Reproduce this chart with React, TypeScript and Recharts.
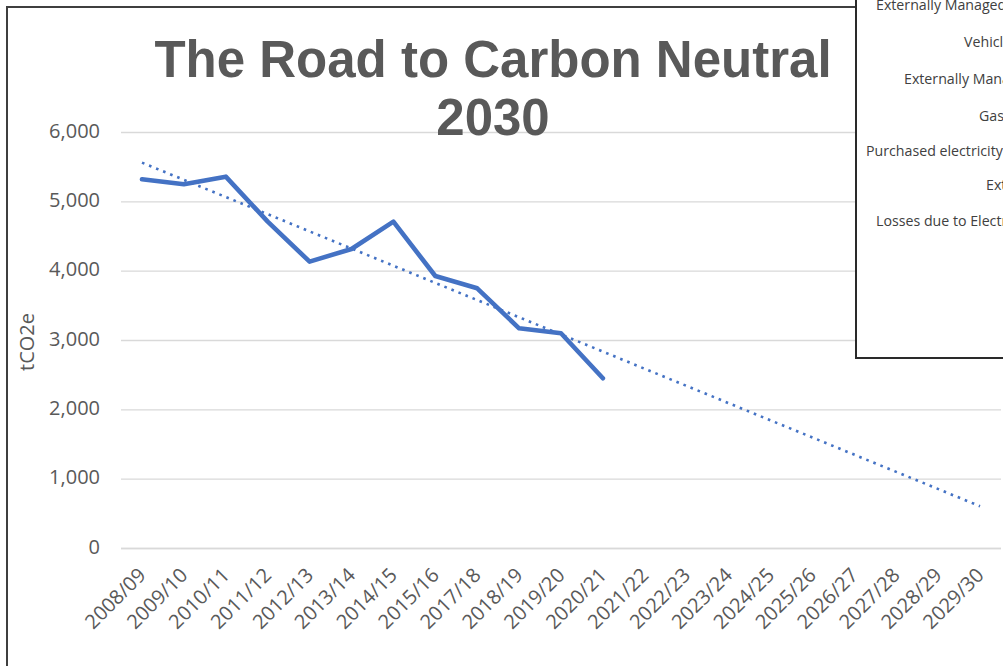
import React from 'react';
import { LineChart, Line, XAxis, YAxis, CartesianGrid } from 'recharts';

const categories = [
  '2008/09', '2009/10', '2010/11', '2011/12', '2012/13', '2013/14', '2014/15',
  '2015/16', '2017/18', '2018/19', '2019/20', '2020/21', '2021/22', '2022/23',
  '2023/24', '2024/25', '2025/26', '2026/27', '2027/28', '2028/29', '2029/30',
];

const emissions = [5325, 5253, 5363, 4714, 4137, 4320, 4714, 3930, 3753, 3176, 3104, 2455];

// Linear trendline as drawn: value at first and last category
const trendFirst = 5565;
const trendLast = 610;

const yTicks = [0, 1000, 2000, 3000, 4000, 5000, 6000];

const title = ['The Road to Carbon Neutral', '2030'];
const yLabel = 'tCO2e';

const boxLabels = [
  'Externally Managed Buildings',
  'Vehicles',
  'Externally Managed Vehicles',
  'Gas',
  'Purchased electricity',
  'Externally Managed',
  'Losses due to Electricity',
];

const data = categories.map((cat, i) => ({
  cat,
  emissions: i < emissions.length ? emissions[i] : null,
  trend: i === 0 ? trendFirst : i === categories.length - 1 ? trendLast : null,
}));

const FONT = "'Segoe UI', 'Open Sans', sans-serif";
const BLUE = '#4472C4';
const GREY_TEXT = '#595959';

const XTick = (props: any) => {
  const { x, y, payload } = props;
  const ax = x + 5;
  const ay = y + 28;
  return (
    <text
      x={ax}
      y={ay}
      transform={`rotate(-45 ${ax} ${ay})`}
      textAnchor="end"
      fill={GREY_TEXT}
      fontSize={20}
      fontFamily={FONT}
    >
      {payload.value}
    </text>
  );
};

const boxPos = [
  { left: 876, top: -3 },
  { left: 964, top: 34 },
  { left: 904, top: 71 },
  { left: 979, top: 108 },
  { left: 866, top: 143 },
  { left: 986, top: 177 },
  { left: 876, top: 213 },
];

export default function App() {
  return (
    <div
      style={{
        position: 'absolute',
        left: 0,
        top: 0,
        width: 1003,
        height: 666,
        overflow: 'hidden',
        background: '#fff',
      }}
    >
      <div
        style={{
          position: 'absolute',
          left: 6,
          top: 6,
          width: 1100,
          height: 800,
          border: '2px solid #3f3f3f',
          boxSizing: 'border-box',
        }}
      />
      <div style={{ position: 'absolute', left: 0, top: 0 }}>
        <LineChart
          width={1003}
          height={666}
          data={data}
          margin={{ top: 132.5, right: 2, bottom: 17.5, left: 61 }}
        >
          <CartesianGrid vertical={false} stroke="#d9d9d9" strokeWidth={1.3} />
          <XAxis
            dataKey="cat"
            interval={0}
            height={100}
            padding={{ left: 21, right: 21 }}
            tickLine={false}
            tickSize={0}
            tickMargin={0}
            axisLine={{ stroke: '#d9d9d9', strokeWidth: 1.3 }}
            tick={<XTick />}
          />
          <YAxis
            width={60}
            domain={[0, 6000]}
            ticks={yTicks}
            interval={0}
            axisLine={false}
            tickLine={false}
            tickSize={0}
            tickMargin={21}
            tickFormatter={(v: number) => v.toLocaleString('en-US')}
            tick={{ fill: GREY_TEXT, fontSize: 20, fontFamily: FONT, dy: -2 }}
          />
          <Line
            type="linear"
            dataKey="trend"
            stroke={BLUE}
            strokeWidth={2.6}
            strokeDasharray="2.6 5"
            dot={false}
            connectNulls
            isAnimationActive={false}
          />
          <Line
            type="linear"
            dataKey="emissions"
            stroke={BLUE}
            strokeWidth={4.6}
            strokeLinejoin="round"
            strokeLinecap="round"
            dot={false}
            isAnimationActive={false}
          />
        </LineChart>
      </div>
      <div
        style={{
          position: 'absolute',
          left: 0,
          width: 986,
          top: 30.6,
          textAlign: 'center',
          fontFamily: "'Liberation Sans', Arial, sans-serif",
          fontWeight: 'bold',
          fontSize: 51,
          lineHeight: '58px',
          color: GREY_TEXT,
          whiteSpace: 'nowrap',
        }}
      >
        <div>{title[0]}</div>
        <div>{title[1]}</div>
      </div>
      <div
        style={{
          position: 'absolute',
          left: -23,
          top: 329,
          width: 100,
          height: 26,
          lineHeight: '26px',
          textAlign: 'center',
          transform: 'rotate(-90deg)',
          fontFamily: FONT,
          fontSize: 20,
          color: GREY_TEXT,
        }}
      >
        {yLabel}
      </div>
      <div
        style={{
          position: 'absolute',
          left: 855,
          top: -4,
          width: 220,
          height: 363,
          border: '2px solid #2a2a2a',
          boxSizing: 'border-box',
          background: '#fff',
        }}
      />
      {boxLabels.map((t, i) => (
        <div
          key={t}
          style={{
            position: 'absolute',
            left: boxPos[i].left,
            top: boxPos[i].top,
            fontFamily: FONT,
            fontSize: 14.2,
            lineHeight: '16px',
            color: '#404040',
            whiteSpace: 'nowrap',
          }}
        >
          {t}
        </div>
      ))}
    </div>
  );
}
